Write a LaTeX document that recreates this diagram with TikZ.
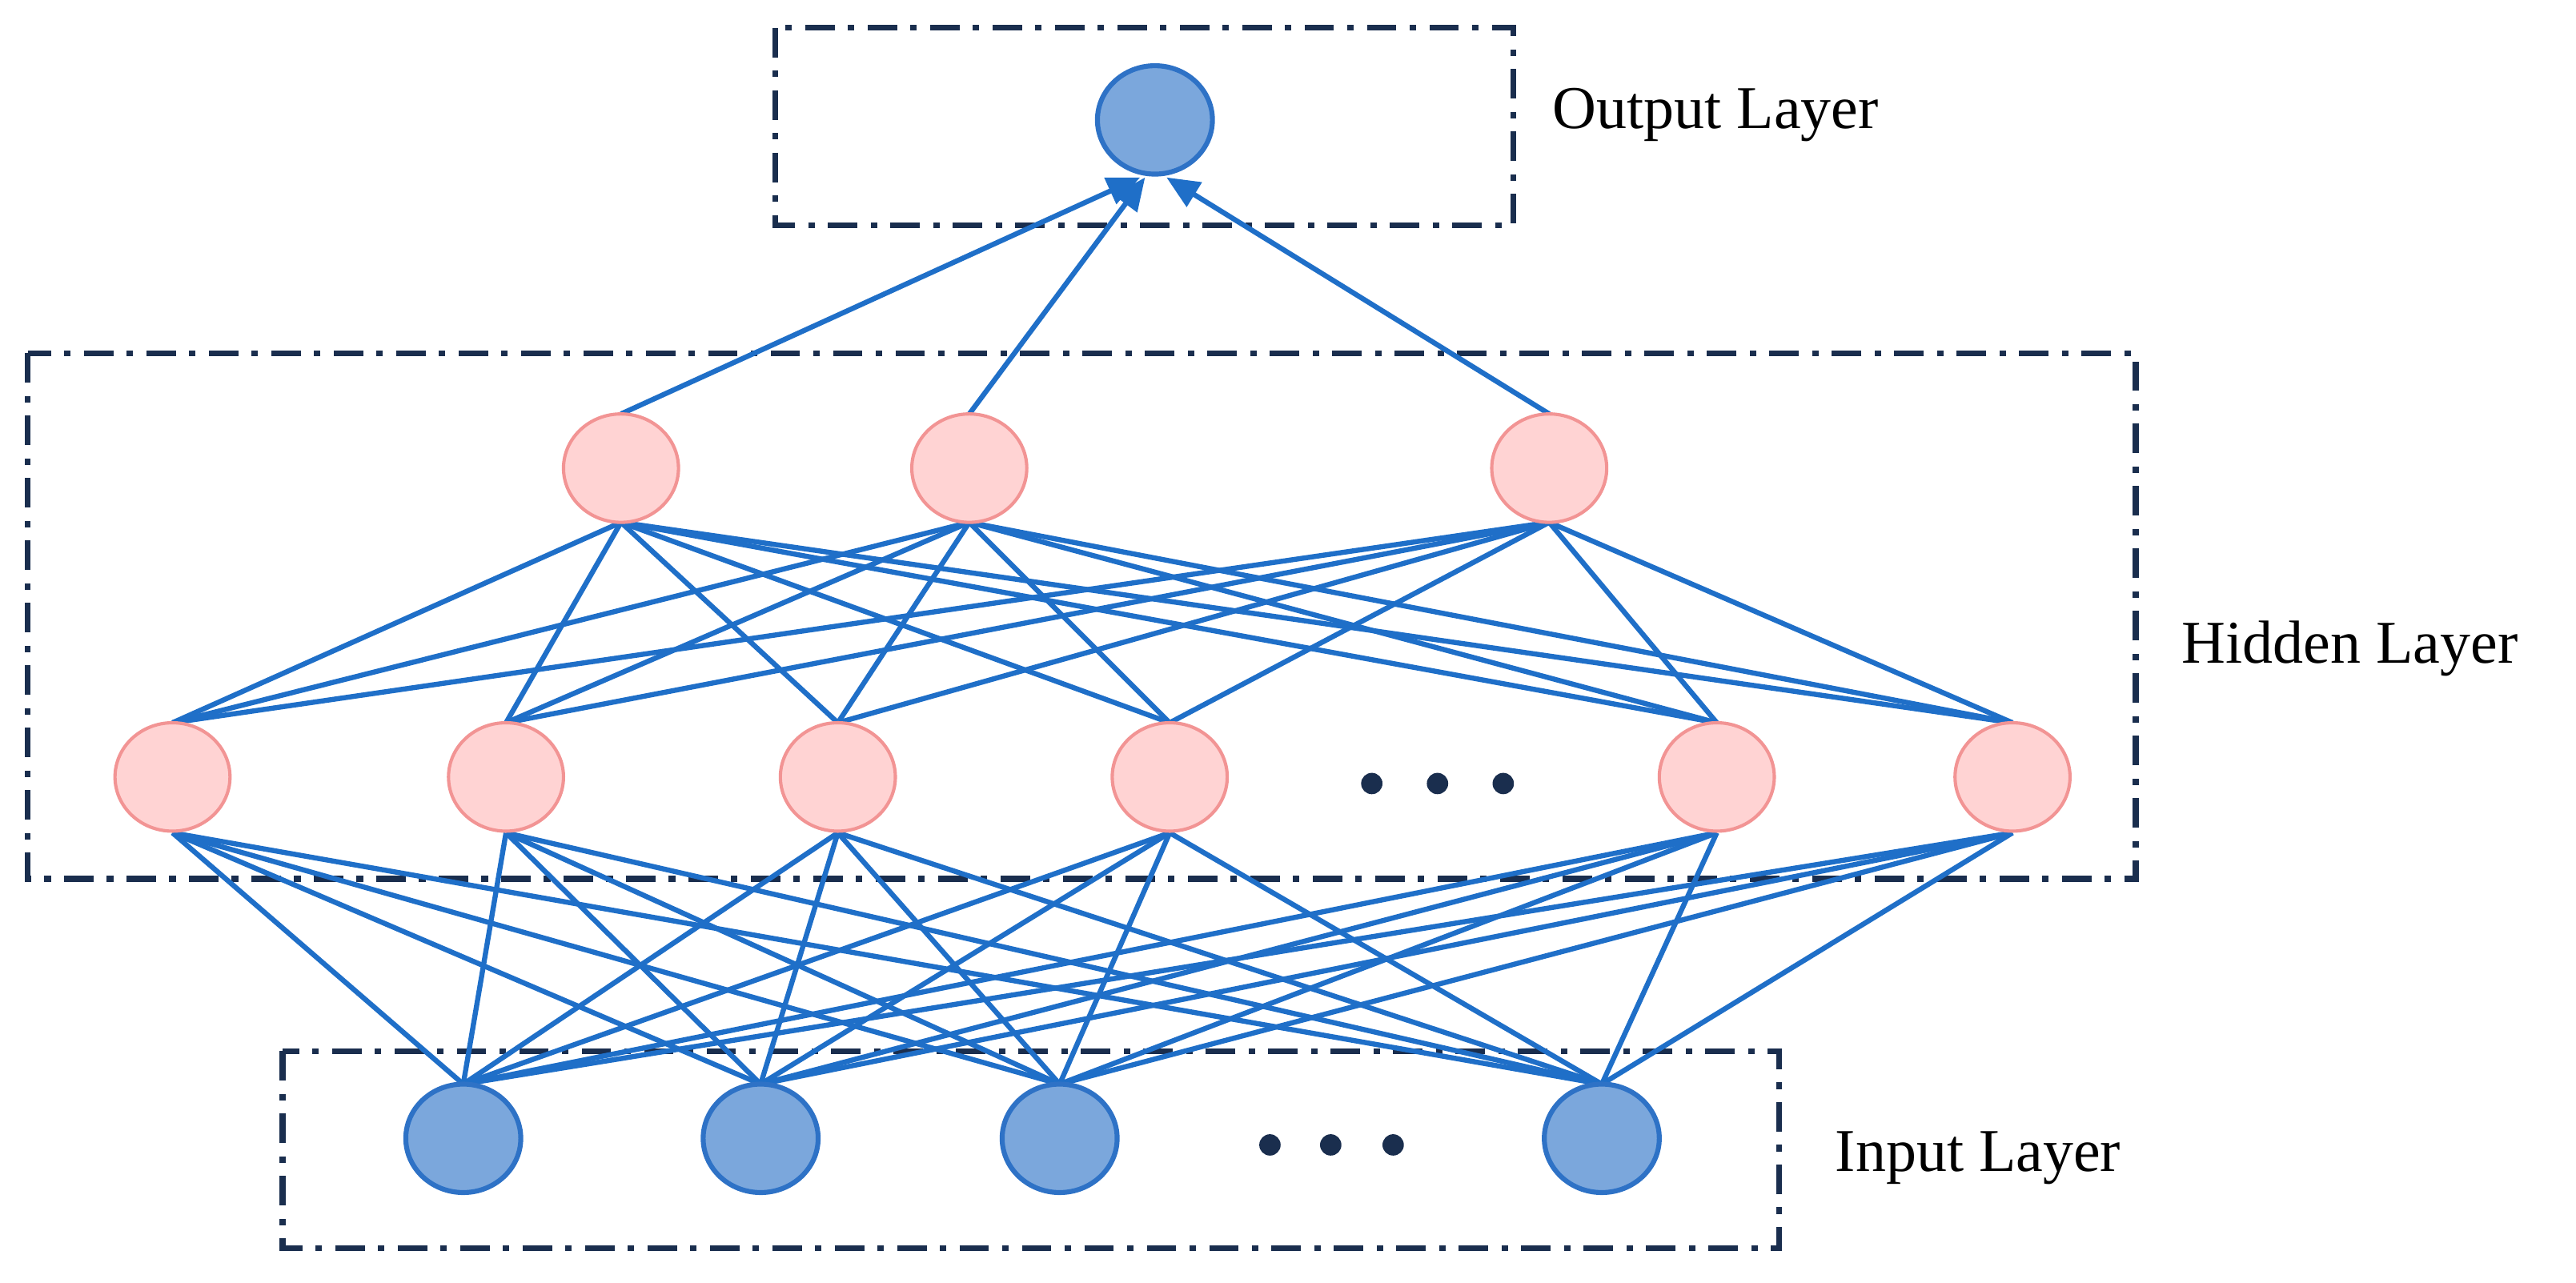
\documentclass[tikz,border=0pt]{standalone}
\usepackage{fontspec}
\setmainfont{Liberation Serif}
\usetikzlibrary{arrows.meta,shapes.geometric}
\definecolor{edge}{HTML}{1F6FC8}
\definecolor{bluef}{HTML}{7BA7DC}
\definecolor{blued}{HTML}{2E72C6}
\definecolor{pinkf}{HTML}{FFD3D3}
\definecolor{pinkd}{HTML}{F29494}
\definecolor{navy}{HTML}{1A2E4E}
\begin{document}
\begin{tikzpicture}[x=1pt,y=-1pt,
  bnode/.style={ellipse,draw=blued,fill=bluef,line width=3pt,minimum width=70pt,minimum height=66pt,inner sep=0pt},
  hnode/.style={ellipse,draw=pinkd,fill=pinkf,line width=2pt,minimum width=70pt,minimum height=66pt,inner sep=0pt},
  box/.style={draw=navy,line width=3.5pt,dash pattern=on 18pt off 8pt on 4pt off 8pt},
  e/.style={draw=edge,line width=3.1pt},
  dot/.style={circle,fill=navy,minimum size=13pt,inner sep=0pt},
  lbl/.style={font=\fontsize{37}{44}\selectfont,anchor=west,inner sep=0pt}]
\useasboundingbox (0,0) rectangle (1568,781);
\draw[box] (472,17) rectangle (921,137);
\draw[box] (17,215) rectangle (1300,535);
\draw[box] (172,640) rectangle (1083,760);
\node[lbl] (lo) at (945,70) {Output Layer};
\node[lbl] (lh) at (1328,395) {Hidden Layer};
\node[lbl] (li) at (1117,705) {Input Layer};
\foreach \n/\x in {1/378,2/590,3/943} \coordinate (u\n) at (\x,285);
\foreach \n/\x in {1/105,2/308,3/510,4/712,5/1045,6/1225} \coordinate (l\n) at (\x,473);
\foreach \n/\x in {1/282,2/463,3/645,4/975} \coordinate (i\n) at (\x,693);
\foreach \a in {1,...,6} \foreach \b in {1,...,4}
  \draw[e] ([yshift=-34pt]l\a) -- ([yshift=33pt]i\b);
\foreach \a in {1,2,3} \foreach \b in {1,...,6}
  \draw[e] ([yshift=-33pt]u\a) -- ([yshift=33pt]l\b);
\node[bnode] (o) at (703,73) {};
\coordinate (t1) at (694,108);
\coordinate (t2) at (697,108);
\coordinate (t3) at (710,108);
\draw[e,-{Triangle[length=20pt,width=17pt]}] ([yshift=33pt]u1) -- (t1);
\draw[e,-{Triangle[length=20pt,width=17pt]}] ([yshift=33pt]u2) -- (t2);
\draw[e,-{Triangle[length=20pt,width=17pt]}] ([yshift=33pt]u3) -- (t3);
\foreach \n in {1,2,3} \node[hnode] (U\n) at (u\n) {};
\foreach \n in {1,...,6} \node[hnode] (L\n) at (l\n) {};
\foreach \n in {1,...,4} \node[bnode] (I\n) at (i\n) {};
\foreach \x in {835,875,915} \node[dot] at (\x,477) {};
\foreach \x in {773,810,848} \node[dot] at (\x,697) {};
\end{tikzpicture}
\end{document}
